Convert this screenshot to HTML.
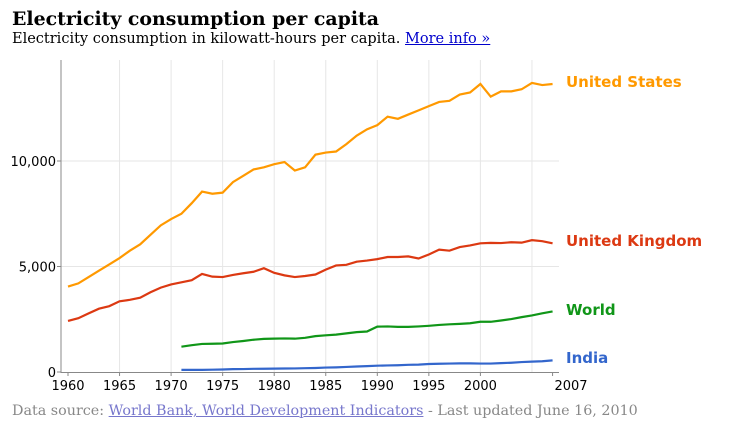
<!DOCTYPE html>
<html><head><meta charset="utf-8"><style>
body{margin:0;width:733px;height:433px;background:#fff;overflow:hidden;font-family:"DejaVu Serif",serif}
#t{position:absolute;left:12px;top:8px;font-size:18.9px;font-weight:bold;margin:0;white-space:nowrap}
#s{position:absolute;left:12px;top:31px;font-size:14.5px;white-space:nowrap}
#s a{color:#00c}
#f{position:absolute;left:12px;top:403px;font-size:14.3px;color:#888;white-space:nowrap}
#f a{color:#77c}
svg{position:absolute;left:0;top:0}
</style></head><body>
<h1 id="t">Electricity consumption per capita</h1>
<div id="s">Electricity consumption in kilowatt-hours per capita. <a href="#">More info »</a></div>
<svg id="c" width="733" height="433"></svg>
<div id="f">Data source: <a href="#">World Bank, World Development Indicators</a> - Last updated June 16, 2010</div>
<script>
const us=[4050,4200,4500,4800,5100,5400,5750,6050,6500,6950,7250,7500,8000,8550,8450,8500,9000,9300,9600,9700,9850,9950,9550,9700,10300,10400,10450,10800,11200,11500,11700,12100,12000,12200,12400,12600,12800,12850,13150,13250,13650,13050,13300,13300,13400,13700,13600,13650];
const uk=[2420,2550,2780,3000,3120,3350,3420,3520,3780,4000,4150,4250,4350,4650,4520,4500,4600,4680,4750,4920,4700,4580,4500,4550,4620,4850,5050,5080,5230,5280,5350,5450,5450,5480,5380,5570,5800,5750,5920,6000,6100,6120,6110,6150,6130,6250,6200,6100];
const world=[1200,1270,1330,1340,1350,1420,1470,1530,1570,1580,1590,1580,1620,1700,1740,1770,1830,1890,1920,2150,2160,2140,2140,2160,2190,2230,2260,2280,2310,2380,2380,2440,2510,2600,2680,2780,2870];
const india=[100,100,100,110,120,135,140,150,155,160,165,170,180,190,210,220,240,260,280,300,310,320,340,350,380,390,400,410,410,400,400,420,440,470,490,510,550];
const xTicks=[1960,1965,1970,1975,1980,1985,1990,1995,2000,2007];
const yTicks=[0,5000,10000];
const yLabels=["0","5,000","10,000"];
const svg=document.getElementById('c');const NS='http://www.w3.org/2000/svg';
const X=y=>68+(y-1960)*10.31;
const Y=v=>372-v*0.0211;
function mk(t,a){const e=document.createElementNS(NS,t);for(const k in a)e.setAttribute(k,a[k]);svg.appendChild(e);return e;}
for(let yr=1965;yr<=2005;yr+=5){const g=mk('line',{x1:X(yr),x2:X(yr),y1:60,y2:372,stroke:'#e6e6e6'});

}
yTicks.forEach((v,i)=>{if(v>0){const g=mk('line',{x1:61,x2:559,y1:Y(v),y2:Y(v),stroke:'#e6e6e6'});

}
const tk=mk('line',{x1:57,x2:61,y1:Y(v),y2:Y(v),stroke:'#888'});


const t=mk('text',{x:56,y:Y(v)+5,'text-anchor':'end','font-size':13,fill:'#000','font-family':'DejaVu Sans,sans-serif'});t.textContent=yLabels[i];

});
const ax=mk('line',{x1:61,x2:61,y1:60,y2:373,stroke:'#888'});


const bx=mk('line',{x1:61,x2:559,y1:372.5,y2:372.5,stroke:'#888'});


xTicks.forEach(yr=>{const tk=mk('line',{x1:X(yr),x2:X(yr),y1:372,y2:376,stroke:'#888'});


const t=mk('text',{x:yr==2007?571:X(yr),y:390,'text-anchor':'middle','font-size':13,fill:'#000','font-family':'DejaVu Sans,sans-serif'});t.textContent=yr;

});
function series(arr,start,color,name,label,ly){
const p=mk('polyline',{points:arr.map((v,i)=>X(start+i)+','+Y(v)).join(' '),fill:'none',stroke:color,'stroke-width':2.2});


const t=mk('text',{x:566,y:ly,'font-size':15,'font-weight':'bold',fill:color,'font-family':'DejaVu Sans,sans-serif'});t.textContent=label;

}
series(us,1960,'#f90','united-states','United States',87);
series(uk,1960,'#dc3912','united-kingdom','United Kingdom',246);
series(world,1971,'#109618','world','World',315);
series(india,1971,'#3366cc','india','India',363);
</script>
</body></html>
